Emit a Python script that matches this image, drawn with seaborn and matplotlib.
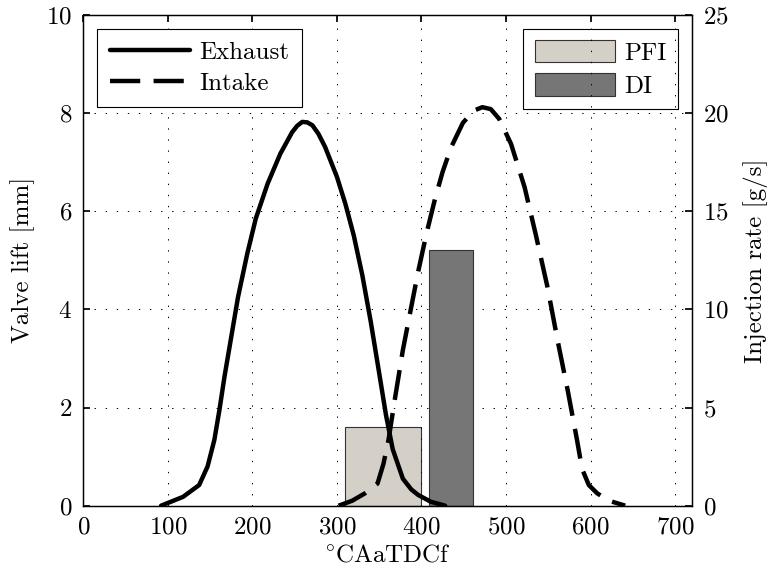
import matplotlib
matplotlib.use("Agg")
import matplotlib.pyplot as plt
import seaborn as sns
from matplotlib.patches import Patch
from matplotlib.lines import Line2D

# crank angle [deg] and valve lift [mm]
exhaust_deg = [92, 118, 137, 147, 155, 161, 167, 175, 183, 194, 204, 218, 233, 247, 253,
               259, 265, 271, 278, 286, 300, 310, 320, 330, 340, 350, 358, 366, 378, 388,
               396, 411, 428]
exhaust_lift = [0, 0.18, 0.42, 0.80, 1.34, 1.95, 2.63, 3.44, 4.25, 5.14, 5.85, 6.56, 7.17,
                7.61, 7.74, 7.82, 7.81, 7.75, 7.58, 7.31, 6.70, 6.15, 5.50, 4.70, 3.75,
                2.70, 1.85, 1.15, 0.55, 0.33, 0.22, 0.08, 0]

intake_deg = [302, 318, 333, 348, 355, 361, 369, 378, 386, 396, 406, 416, 425, 435, 449,
              462, 472, 482, 492, 506, 522, 535, 549, 561, 573, 584, 590, 598, 608, 622, 641]
intake_lift = [0, 0.10, 0.25, 0.45, 0.85, 1.34, 2.22, 3.17, 3.88, 4.76, 5.55, 6.25, 6.80,
               7.30, 7.80, 8.05, 8.12, 8.08, 7.88, 7.37, 6.49, 5.54, 4.46, 3.37, 2.35, 1.34,
               0.75, 0.42, 0.25, 0.10, 0]

# injection windows [deg] and rates [g/s]
inj_names = ["PFI", "DI"]
inj_start = [310, 409]
inj_end = [399, 461]
inj_rate = [4, 13]
inj_colors = ["#d4d0c8", "#767676"]

sns.set_theme(style="white")
plt.rcParams.update({
    "font.family": "serif",
    "font.serif": ["cmr10"],
    "mathtext.fontset": "cm",
    "axes.formatter.use_mathtext": True,
    "font.size": 18,
    "text.color": "black",
    "axes.labelcolor": "black",
    "axes.edgecolor": "black",
    "axes.linewidth": 0.9,
    "xtick.color": "black",
    "ytick.color": "black",
    "xtick.labelcolor": "black",
    "ytick.labelcolor": "black",
})

fig = plt.figure(figsize=(7.68, 5.73), dpi=100)
ax1 = fig.add_subplot(111)
fig.subplots_adjust(left=0.1085, right=0.901, bottom=0.1175, top=0.974)
ax2 = ax1.twinx()

grid_ls = (0, (1.4, 10))
lift_lw = 3.2
intake_dash = (0, (6.8, 3))

# bars on the right axis
widths = [e - s for s, e in zip(inj_start, inj_end)]
ax2.bar(inj_start, inj_rate, width=widths, align="edge", color=inj_colors,
        edgecolor="#333333", linewidth=0.8, zorder=2)
ax2.set_ylim(0, 25)
ax2.set_yticks([0, 5, 10, 15, 20, 25])
ax2.set_ylabel("Injection rate [g/s]", fontsize=18, labelpad=10)
ax2.tick_params(axis="y", labelsize=18, direction="in", length=5, pad=8, colors="black")
ax2.yaxis.grid(True, color="black", linewidth=0.7, linestyle=grid_ls)
ax2.set_axisbelow(True)

# valve lift curves on the left axis (drawn on top)
ax1.set_zorder(ax2.get_zorder() + 1)
ax1.patch.set_visible(False)
sns.lineplot(x=exhaust_deg, y=exhaust_lift, ax=ax1, color="black", linewidth=lift_lw,
             legend=False)
sns.lineplot(x=intake_deg, y=intake_lift, ax=ax1, color="black", linewidth=lift_lw,
             linestyle=intake_dash, legend=False)

ax1.set_xlim(0, 720)
ax1.set_ylim(0, 10)
ax1.set_xticks(range(0, 701, 100))
ax1.set_yticks(range(0, 11, 2))
ax1.set_xlabel(r"$^{\circ}$CAaTDCf", fontsize=18, labelpad=4)
ax1.set_ylabel("Valve lift [mm]", fontsize=18, labelpad=8)
ax1.tick_params(axis="both", labelsize=18, direction="in", length=5, pad=8,
                colors="black")
ax1.tick_params(axis="x", top=True)
ax1.xaxis.grid(True, color="black", linewidth=0.7, linestyle=grid_ls)
for sp in ax1.spines.values():
    sp.set_color("black")

line_handles = [Line2D([], [], color="black", linewidth=lift_lw),
                Line2D([], [], color="black", linewidth=lift_lw, linestyle=intake_dash)]
leg1 = ax1.legend(line_handles, ["Exhaust", "Intake"], loc="upper left",
                  fancybox=False, edgecolor="black", framealpha=1,
                  handlelength=3.2, handletextpad=0.4, borderaxespad=0.55,
                  labelspacing=0.35, borderpad=0.5, fontsize=18)
leg1.get_frame().set_linewidth(0.8)

bar_handles = [Patch(facecolor=c, edgecolor="#333333", linewidth=0.8) for c in inj_colors]
leg2 = ax2.legend(bar_handles, inj_names, loc="upper right",
                  fancybox=False, edgecolor="black", framealpha=1,
                  handlelength=3.2, handleheight=1.0, handletextpad=0.4,
                  borderaxespad=0.55, labelspacing=0.35, borderpad=0.45, fontsize=18)
leg2.get_frame().set_linewidth(0.8)

fig.savefig("out.png", dpi=100)
